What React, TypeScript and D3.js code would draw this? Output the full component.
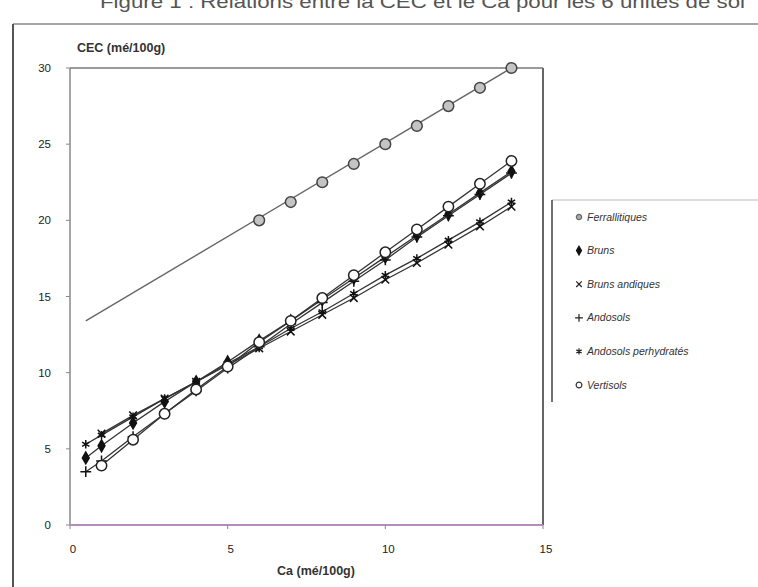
import React from "react";
import * as d3 from "d3";

// CEC vs Ca
const titleText = "Figure 1 : Relations entre la CEC et le Ca pour les 6 unités de sol";
const xTicks = [0, 5, 10, 15];
const yTicks = [0, 5, 10, 15, 20, 25, 30];

const ferraCa = [6, 7, 8, 9, 10, 11, 12, 13, 14];
const ferraCec = [20.0, 21.2, 22.5, 23.7, 25.0, 26.2, 27.5, 28.7, 30.0];
const ferraTrendCa = [0.5, 14];
const ferraTrendCec = [13.4, 30.0];

const brunsCa = [0.5, 1, 2, 3, 4, 5, 6, 7, 8, 9, 10, 11, 12, 13, 14];
const brunsCec = [4.4, 5.2, 6.7, 8.1, 9.4, 10.7, 12.1, 13.4, 14.8, 16.2, 17.6, 19.0, 20.4, 21.8, 23.2];

const andiquesCa = [1, 2, 3, 4, 5, 6, 7, 8, 9, 10, 11, 12, 13, 14];
const andiquesCec = [6.0, 7.2, 8.3, 9.4, 10.5, 11.6, 12.7, 13.8, 14.9, 16.1, 17.2, 18.4, 19.6, 20.9];

const andosolsCa = [0.5, 1, 2, 3, 4, 5, 6, 7, 8, 9, 10, 11, 12, 13, 14];
const andosolsCec = [3.5, 4.2, 5.8, 7.3, 8.8, 10.3, 11.7, 13.2, 14.6, 16.0, 17.4, 18.9, 20.3, 21.7, 23.1];

const perhydCa = [0.5, 1, 2, 3, 4, 5, 6, 7, 8, 9, 10, 11, 12, 13, 14];
const perhydCec = [5.3, 5.9, 7.1, 8.3, 9.4, 10.6, 11.7, 12.9, 14.0, 15.2, 16.4, 17.5, 18.7, 19.9, 21.2];

const vertCa = [1, 2, 3, 4, 5, 6, 7, 8, 9, 10, 11, 12, 13, 14];
const vertCec = [3.9, 5.6, 7.3, 8.9, 10.4, 12.0, 13.4, 14.9, 16.4, 17.9, 19.4, 20.9, 22.4, 23.9];

const legendNames = [
  "Ferrallitiques",
  "Bruns",
  "Bruns andiques",
  "Andosols",
  "Andosols perhydratés",
  "Vertisols",
];

const zip = (a: number[], b: number[]) => a.map((v, i) => [v, b[i]] as [number, number]);

export default function App() {
  const W = 758,
    H = 587;
  const x = d3.scaleLinear().domain([0, 15]).range([70, 543]);
  const y = d3.scaleLinear().domain([0, 30]).range([525, 68]);
  const line = d3
    .line<[number, number]>()
    .x((d) => x(d[0]))
    .y((d) => y(d[1]));

  const sym = (type: d3.SymbolType, size: number) => d3.symbol().type(type).size(size)() || "";

  const series = [
    { pts: zip(brunsCa, brunsCec), shape: sym(d3.symbolDiamond, 40), fill: "#111", stroke: "#111" },
    { pts: zip(andiquesCa, andiquesCec), shape: sym(d3.symbolTimes, 40), fill: "none", stroke: "#111" },
    { pts: zip(andosolsCa, andosolsCec), shape: sym(d3.symbolPlus, 40), fill: "none", stroke: "#111" },
    { pts: zip(perhydCa, perhydCec), shape: sym(d3.symbolAsterisk, 50), fill: "none", stroke: "#111" },
    { pts: zip(vertCa, vertCec), shape: sym(d3.symbolCircle, 85), fill: "#fff", stroke: "#222" },
  ];

  const legendShapes = [
    { shape: sym(d3.symbolCircle, 22), fill: "#aaa", stroke: "#666" },
    { shape: sym(d3.symbolDiamond, 22), fill: "#111", stroke: "#111" },
    { shape: sym(d3.symbolTimes, 22), fill: "none", stroke: "#222" },
    { shape: sym(d3.symbolPlus, 22), fill: "none", stroke: "#222" },
    { shape: sym(d3.symbolAsterisk, 26), fill: "none", stroke: "#222" },
    { shape: sym(d3.symbolCircle, 26), fill: "#fff", stroke: "#333" },
  ];

  const font = "'Liberation Sans', Arial, sans-serif";

  return (
    <svg
      width={W}
      height={H}
      style={{ position: "absolute", left: 0, top: 0, background: "#fff" }}
      fontFamily={font}
    >
      {/* caption, cut off at the top as in the scan */}
      <text x={100} y={8} fontSize={18} fill="#555" textLength={645} lengthAdjust="spacingAndGlyphs">
        {titleText}
      </text>

      {/* outer frame */}
      <line x1={13} y1={24} x2={W} y2={24} stroke="#888" strokeWidth={1.5} />
      <line x1={13} y1={24} x2={13} y2={H} stroke="#555" strokeWidth={2} />

      {/* y title */}
      <text x={77} y={52} fontSize={12.5} fontWeight="bold" fill="#333">
        CEC (mé/100g)
      </text>

      {/* plot frame */}
      <line x1={x(0)} y1={y(30)} x2={x(15)} y2={y(30)} stroke="#777" strokeWidth={1.5} />
      <line x1={x(15)} y1={y(30)} x2={x(15)} y2={y(0)} stroke="#666" strokeWidth={2} />
      <line x1={x(0)} y1={y(0)} x2={x(0)} y2={y(30)} stroke="#888" strokeWidth={1.5} />
      <line x1={x(0)} y1={y(0)} x2={x(15)} y2={y(0)} stroke="#b48cc0" strokeWidth={2} />

      {yTicks.map((t) => (
        <g key={"y" + t}>
          <line x1={x(0) - 4} x2={x(0)} y1={y(t)} y2={y(t)} stroke="#888" />
          <text x={51} y={y(t)} dy="0.35em" textAnchor="end" fontSize={11.5} fill="#222">
            {t}
          </text>
        </g>
      ))}
      {xTicks.map((t) => (
        <g key={"x" + t}>
          <line x1={x(t)} x2={x(t)} y1={y(0)} y2={y(0) + 4} stroke="#888" />
          <text x={x(t) + 3} y={553} textAnchor="middle" fontSize={11.5} fill="#222">
            {t}
          </text>
        </g>
      ))}
      <text x={316} y={575} textAnchor="middle" fontSize={12.5} fontWeight="bold" fill="#333">
        Ca (mé/100g)
      </text>

      {/* Ferrallitiques trend + markers */}
      <path d={line(zip(ferraTrendCa, ferraTrendCec)) || ""} fill="none" stroke="#666" strokeWidth={1.4} />
      {zip(ferraCa, ferraCec).map((d, i) => (
        <path
          key={"f" + i}
          d={sym(d3.symbolCircle, 90)}
          transform={`translate(${x(d[0])},${y(d[1])})`}
          fill="#c4c4c4"
          stroke="#444"
          strokeWidth={1.5}
        />
      ))}

      {series.map((s, si) => (
        <g key={"s" + si}>
          <path d={line(s.pts) || ""} fill="none" stroke="#333" strokeWidth={1.3} />
          {s.pts.map((d, i) => (
            <path
              key={i}
              d={s.shape}
              transform={`translate(${x(d[0])},${y(d[1])})`}
              fill={s.fill}
              stroke={s.stroke}
              strokeWidth={1.5}
            />
          ))}
        </g>
      ))}

      {/* legend */}
      <line x1={552} y1={200} x2={W} y2={200} stroke="#bbb" strokeWidth={1.2} />
      <line x1={552} y1={200} x2={552} y2={402} stroke="#444" strokeWidth={1.5} />
      {legendNames.map((n, i) => {
        const ly = 217 + i * 33.6;
        const s = legendShapes[i];
        return (
          <g key={n}>
            <path d={s.shape} transform={`translate(579,${ly})`} fill={s.fill} stroke={s.stroke} strokeWidth={1.2} />
            <text x={587} y={ly} dy="0.35em" fontSize={10.5} fontStyle="italic" fill="#333">
              {n}
            </text>
          </g>
        );
      })}
    </svg>
  );
}
